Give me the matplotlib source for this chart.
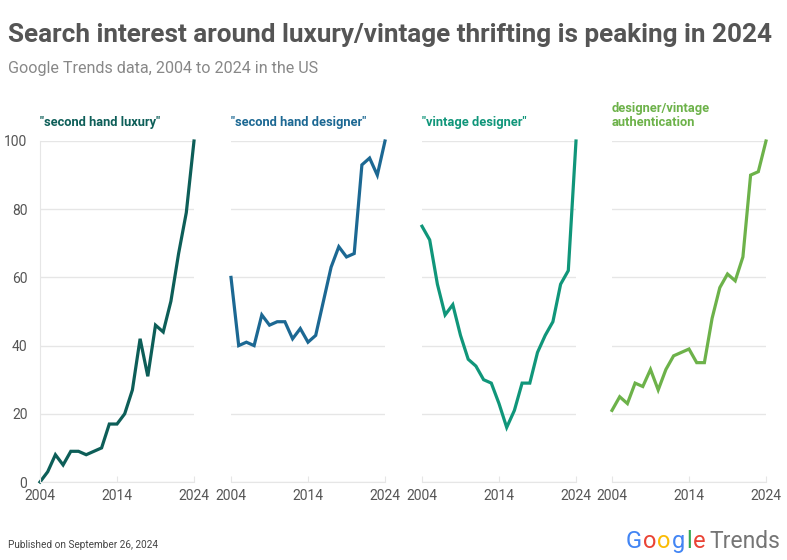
import matplotlib
matplotlib.use("Agg")
import matplotlib.pyplot as plt

plt.rcParams['font.family'] = ['Roboto', 'DejaVu Sans']

# Данные Google Trends, 2004-2024
years = list(range(2004, 2025))
second_hand_luxury = [0, 3, 8, 5, 9, 9, 8, 9, 10, 17, 17, 20, 27, 42, 31, 46, 44, 53, 67, 79, 100]
second_hand_designer = [60, 40, 41, 40, 49, 46, 47, 47, 42, 45, 41, 43, 53, 63, 69, 66, 67, 93, 95, 90, 100]
vintage_designer = [75, 71, 58, 49, 52, 43, 36, 34, 30, 29, 23, 16, 21, 29, 29, 38, 43, 47, 58, 62, 100]
authentication = [21, 25, 23, 29, 28, 33, 27, 33, 37, 38, 39, 35, 35, 48, 57, 61, 59, 66, 90, 91, 100]

panel_titles = ['"second hand luxury"', '"second hand designer"', '"vintage designer"',
                'designer/vintage\nauthentication']
panel_colors = ['#0d5e58', '#1c6893', '#10967a', '#6db24a']
series = [second_hand_luxury, second_hand_designer, vintage_designer, authentication]

x_ticks = [2004, 2014, 2024]
y_ticks = [0, 20, 40, 60, 80, 100]

W, H = 787, 560
fig = plt.figure(figsize=(W / 100, H / 100), dpi=100)
fig.patch.set_facecolor('white')

lefts = [40, 231, 422, 612]
top_px, bottom_px, width_px = 141, 482, 154
grid_color = '#e6e6e6'

for i, (left, values, title, color) in enumerate(zip(lefts, series, panel_titles, panel_colors)):
    ax = fig.add_axes([left / W, 1 - bottom_px / H, width_px / W, (bottom_px - top_px) / H])
    ax.plot(years, values, color=color, linewidth=2.3, clip_on=False, solid_joinstyle='miter')
    ax.set_xlim(2004, 2024)
    ax.set_ylim(0, 100)
    ax.set_yticks(y_ticks)
    ax.set_xticks(x_ticks)
    ax.set_xticklabels([str(t) for t in x_ticks])
    ax.grid(axis='y', color=grid_color, linewidth=1)
    ax.set_axisbelow(True)
    for side in ['top', 'right']:
        ax.spines[side].set_visible(False)
    ax.spines['bottom'].set_color(grid_color)
    ax.spines['left'].set_color(grid_color)
    if i > 0:
        ax.spines['left'].set_visible(False)
        ax.tick_params(axis='y', length=0, labelleft=False)
    else:
        ax.tick_params(axis='y', length=0, labelsize=10, labelcolor='#555555', pad=9)
    ax.tick_params(axis='x', direction='in', length=4, color=grid_color,
                   labelsize=10, labelcolor='#555555', pad=5)
    ax.text(0, 1.035, title, transform=ax.transAxes, ha='left', va='bottom',
            color=color, fontsize=9.3, fontweight='bold', linespacing=1.15)

fig.text(8 / W, 1 - 42 / H, 'Search interest around luxury/vintage thrifting is peaking in 2024',
         fontsize=18.8, fontweight='bold', color='#555555', ha='left', va='baseline')
fig.text(8 / W, 1 - 73 / H, 'Google Trends data, 2004 to 2024 in the US',
         fontsize=11.6, color='#888888', ha='left', va='baseline')
fig.text(8 / W, 1 - 548 / H, 'Published on September 26, 2024',
         fontsize=7.2, color='#444444', ha='left', va='baseline')

# Логотип Google Trends
logo_letters = ['G', 'o', 'o', 'g', 'l', 'e']
logo_colors = ['#4285F4', '#EA4335', '#FBBC05', '#4285F4', '#34A853', '#EA4335']
renderer = fig.canvas.get_renderer()
x = 626
for ch, c in zip(logo_letters, logo_colors):
    t = fig.text(x / W, 1 - 548 / H, ch, fontsize=17, color=c, ha='left', va='baseline')
    bb = t.get_window_extent(renderer=renderer)
    x += bb.width + 1.0
fig.text((x + 3) / W, 1 - 548 / H, 'Trends', fontsize=16.5, color='#757575', ha='left', va='baseline')

fig.savefig('out.png', dpi=100)
